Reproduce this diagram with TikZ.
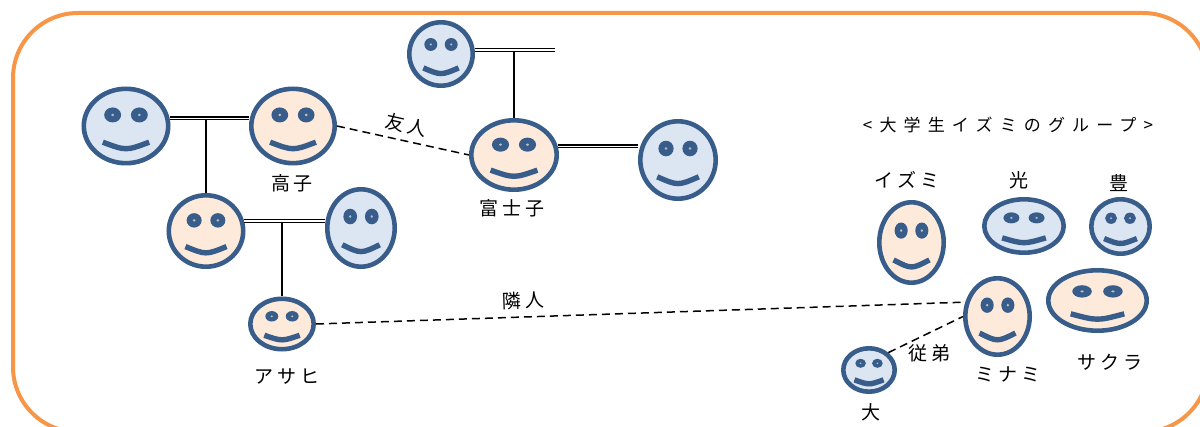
\documentclass[tikz,border=0pt]{standalone}
\usepackage{fontspec}
\newfontfamily\jp{Noto Sans CJK JP}[LetterSpace=20]
\newfontfamily\jpwide{Noto Sans CJK JP}[LetterSpace=42]
\usepackage{xcolor}
\definecolor{Col1}{RGB}{56,93,138}
\definecolor{Col2}{RGB}{220,230,242}
\definecolor{Col3}{RGB}{253,234,218}
\definecolor{Col4}{RGB}{247,150,70}
\usepackage{tikz}
\usetikzlibrary{shapes.geometric}
\tikzstyle{Face}=[ellipse,draw=Col1,line width=2.3pt,inner sep=0pt]
\tikzstyle{Mouth}=[draw=Col1,line width=2.7pt]
\tikzstyle{Couple}=[draw=black,double=white,double distance=0.8pt,line width=0.6pt]
\tikzstyle{Child}=[draw=black,line width=1pt]
\tikzstyle{Relation}=[draw=black,line width=0.75pt,dash pattern=on 4pt off 2.5pt]
\tikzstyle{Name}=[font=\jp\fontsize{9.5pt}{11pt}\selectfont]
\tikzstyle{Title}=[font=\jpwide\fontsize{8.5pt}{10pt}\selectfont]
\tikzstyle{Frame}=[draw=Col4,line width=2pt,rounded corners=32.5pt]
\newcommand{\Smiley}[5]{%
    \node[Face,fill=#5,minimum width={#3*0.5pt-2.3pt},
    minimum height={#4*0.5pt-2.3pt}](#1)at(#2){};
    \begin{scope}[shift={(#2)},xscale=#3/2,yscale=#4/2]
        \fill[Col1](-0.3,-0.28)circle(0.19);
        \fill[Col1](0.3,-0.28)circle(0.19);
        \fill[#5!70!Col1](-0.3,-0.28)circle(0.035);
        \fill[#5!70!Col1](0.3,-0.28)circle(0.035);
        \draw[Mouth](-0.52,0.41)..controls(0,0.63)..(0.52,0.41);
    \end{scope}}
\begin{document}
\begin{tikzpicture}[x=0.5pt,y=-0.5pt]
    \useasboundingbox(0,0)rectangle(1200,427);
    \clip(0,0)rectangle(1200,427);
    \draw[Frame](13,13)rectangle(1208,432);
    % family on the left
    \Smiley{Grandpa}{126,126}{89}{79}{Col2}
    \Smiley{Takako}{293,126}{88}{79}{Col3}
    \Smiley{Mother}{206,231}{79}{76}{Col3}
    \Smiley{Father}{361,228}{72}{82}{Col2}
    \Smiley{Asahi}{282,324}{68}{55}{Col3}
    \Smiley{Elder}{441,54}{68}{68}{Col2}
    \Smiley{Fujiko}{514,155}{90}{74}{Col3}
    \Smiley{Husband}{678,160}{80}{82}{Col2}
    % group on the right
    \Smiley{Izumi}{911.5,242.5}{69}{85}{Col3}
    \Smiley{Hikari}{1024,226}{84}{58}{Col2}
    \Smiley{Yutaka}{1120.5,226.5}{63}{59}{Col2}
    \Smiley{Minami}{997.5,316.5}{69}{81}{Col3}
    \Smiley{Sakura}{1097.5,300.5}{103}{65}{Col3}
    \Smiley{Dai}{869,370}{56}{48}{Col2}
    \node[Name](LTakako)at(292,183){高子};
    \node[Name](LFujiko)at(512,208){富士子};
    \node[Name](LAsahi)at(287,377){アサヒ};
    \node[Title](Group)at(1008,125){<大学生イズミのグループ>};
    \node[Name](LIzumi)at(907,180){イズミ};
    \node[Name](LHikari)at(1019,180){光};
    \node[Name](LYutaka)at(1119,183){豊};
    \node[Name](LMinami)at(1008,375){ミナミ};
    \node[Name](LSakura)at(1110,362){サクラ};
    \node[Name](LDai)at(871,412){大};
    \draw[Child](Mother.north)--(Mother.north|-Grandpa.10);
    \draw[Couple](Grandpa.10)--(Grandpa.10-|Takako.west);
    \draw[Child](Asahi.north)--(Asahi.north|-Mother.15);
    \draw[Couple](Mother.15)--(Mother.15-|Father.west);
    \coordinate(ElderEnd)at(555,50);
    \draw[Child](Fujiko.north)--(Fujiko.north|-Elder.7);
    \draw[Couple](Elder.7)--(Elder.7-|ElderEnd);
    \draw[Couple](Fujiko.11)--(Fujiko.11-|Husband.west);
    \draw[Relation](Takako.east)--node[Name,sloped,above]{友人}(Fujiko.west);
    \draw[Relation](Asahi.east)--node[Name,pos=.32,sloped,above]{隣人}(Minami.156);
    \draw[Relation](Dai.42)--node[Name,pos=.55,below=2pt]{従弟}(Minami.west);
\end{tikzpicture}
\end{document}
